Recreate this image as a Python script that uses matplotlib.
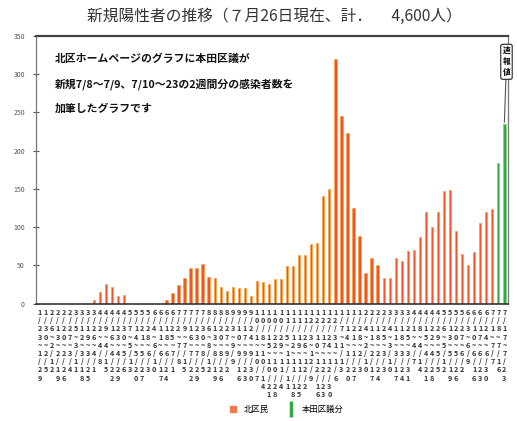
import matplotlib
matplotlib.use("Agg")
import matplotlib.pyplot as plt
from matplotlib.lines import Line2D

plt.rcParams['font.family'] = ['Noto Sans CJK JP', 'DejaVu Sans']

# weekly periods (2020/1/23 ... 2021/7/23)
week_labels = [
    "1/23~1/29", "1/30~2/5", "2/6~2/12", "2/13~2/19", "2/20~2/26", "2/27~3/4",
    "3/5~3/11", "3/12~3/18", "3/19~3/25", "3/26~4/1", "4/2~4/8", "4/9~4/15",
    "4/16~4/22", "4/23~4/29", "4/30~5/6", "5/7~5/13", "5/14~5/20", "5/21~5/27",
    "5/28~6/3", "6/4~6/10", "6/11~6/17", "6/18~6/24", "6/25~7/1", "7/2~7/8",
    "7/9~7/15", "7/16~7/22", "7/23~7/29", "7/30~8/5", "8/6~8/12", "8/13~8/19",
    "8/20~8/26", "8/27~9/2", "9/3~9/9", "9/10~9/16", "9/17~9/23", "9/24~9/30",
    "10/1~10/7", "10/8~10/14", "10/15~10/21", "10/22~10/28", "10/29~11/4",
    "11/5~11/11", "11/12~11/18", "11/19~11/25", "11/26~12/2", "12/3~12/9",
    "12/10~12/16", "12/17~12/23", "12/24~12/30", "12/31~1/6", "1/7~1/13",
    "1/14~1/20", "1/21~1/27", "1/28~2/3", "2/4~2/10", "2/11~2/17", "2/18~2/24",
    "2/25~3/3", "3/4~3/10", "3/11~3/17", "3/18~3/24", "3/25~3/31", "4/1~4/7",
    "4/8~4/14", "4/15~4/21", "4/22~4/28", "4/29~5/5", "5/6~5/12", "5/13~5/19",
    "5/20~5/26", "5/27~6/2", "6/3~6/9", "6/10~6/16", "6/17~6/23", "6/24~6/30",
    "7/1~7/7", "7/8~7/16", "7/17~7/23",
]

# 北区民 (ward published values), one per week
kita_values = [
    0, 0, 0, 0, 0, 0, 0, 0, 0,
    5, 15, 25, 21, 10, 11,
    0, 0, 0, 0, 0, 0,
    5, 14, 24, 33, 46, 46, 52, 35, 34, 21, 17, 21, 20, 20, 10, 30, 28, 26, 32, 32,
    49, 49, 63, 64, 78, 79, 140, 150, 320, 245, 223, 125, 88, 40, 60, 50, 33, 34,
    60, 56, 69, 70, 87, 120, 100, 120, 147, 149, 95, 65, 50, 68, 105, 120, 124,
    0, 0,
]
# 本田区議分 (added preliminary values)
honda_values = [0] * 76 + [184, 235]

yticks = [0, 50, 100, 150, 200, 250, 300, 350]

title = "新規陽性者の推移（７月26日現在、計．　 4,600人）"
note_lines = [
    "北区ホームページのグラフに本田区議が",
    "新規7/8～7/9、7/10～23の2週間分の感染者数を",
    "加筆したグラフです",
]
legend_labels = ["北区民", "本田区議分"]
callout = "速報値"

orange = "#F0562A"
orange_edge = "#F8A23C"
green = "#33A845"

fig = plt.figure(figsize=(5.17, 4.21), dpi=100)
ax = fig.add_axes([0.0696, 0.279, 0.913, 0.636])

n = len(week_labels)
x = list(range(n))
ax.bar(x, kita_values, width=0.38, color=orange, edgecolor=orange_edge, linewidth=0.5, zorder=2)
ax.bar(x, honda_values, width=0.38, color=green, edgecolor="#7FD07F", linewidth=0.5, zorder=2)

ax.set_xlim(-0.6, n - 0.4)
ax.set_ylim(0, 350)
ax.set_yticks(yticks)
ax.set_yticklabels([str(v) for v in yticks], fontsize=5, color="#555555")
ax.tick_params(axis="y", direction="inout", length=4, width=0.8, colors="#555555", pad=6)

ax.set_xticks(x)
ax.set_xticklabels(["\n".join(lbl) for lbl in week_labels], fontsize=5.2,
                   linespacing=1.2, color="#333333", va="top", fontweight="bold")
ax.tick_params(axis="x", length=0, pad=4)

for s in ["left", "right"]:
    ax.spines[s].set_color("#777777")
    ax.spines[s].set_linewidth(0.9)
ax.spines["bottom"].set_color("#333333")
ax.spines["bottom"].set_linewidth(1.2)
ax.spines["top"].set_color("#444444")
ax.spines["top"].set_linewidth(1.6)

# note text
for txt, yy in zip(note_lines, [0.915, 0.818, 0.729]):
    ax.text(0.040, yy, txt, transform=ax.transAxes, fontsize=7.8, fontweight="bold",
            color="#111111", va="center", ha="left")

# callout
ax.annotate("\n".join(callout), xy=(n - 1, honda_values[-1] + 2), xytext=(n - 1 + 0.35, 316),
            textcoords="data", fontsize=5.5, fontweight="bold", ha="center", va="center",
            linespacing=1.3, annotation_clip=False,
            bbox=dict(boxstyle="round,pad=0.25", fc="white", ec="#222222", lw=0.8),
            arrowprops=dict(arrowstyle="-", color="#555555", lw=0.8, shrinkA=0, shrinkB=0))

fig.text(0.53, 0.96, title, fontsize=11.3, color="#333333", ha="center", va="center")

handles = [
    Line2D([], [], marker="s", color="#F07A4A", markersize=4, linestyle="none"),
    Line2D([], [], marker="|", color=green, markersize=12, markeredgewidth=2.5, linestyle="none"),
]
fig.legend(handles, legend_labels, loc="center", bbox_to_anchor=(0.55, 0.028), ncol=2,
           frameon=False, fontsize=6, columnspacing=1.6, handletextpad=0.3)

fig.savefig("out.png", dpi=100, facecolor="white")
